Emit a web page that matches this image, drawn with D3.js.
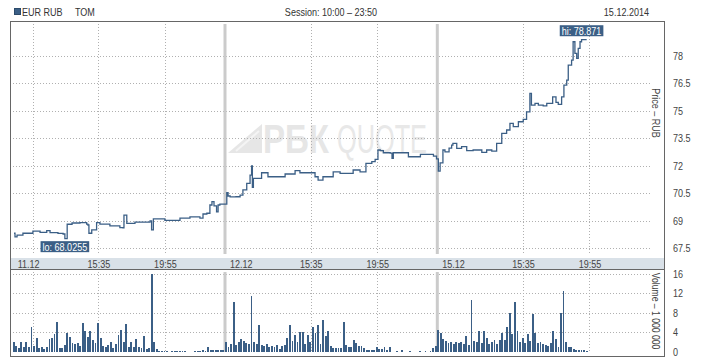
<!DOCTYPE html>
<html><head><meta charset="utf-8">
<script src="https://cdn.jsdelivr.net/npm/d3@7"></script>
<style>
body{margin:0;background:#fff}
svg{display:block}
text{font-family:"Liberation Sans",Arial,sans-serif;}
</style>
</head><body><svg id="c" width="718" height="360"></svg>
<script>
// ---------- data ----------
const days = ["11.12", "12.12", "15.12"];
const timeTickLabels = ["15:35", "19:55"];
const extraGridTimes = ["11.12 11:20"];
const priceTicks = [67.5, 69, 70.5, 72, 73.5, 75, 76.5, 78];
const volumeTicks = [0, 4, 8, 12, 16];

const priceTimes = [
 "11.12 10:05","11.12 10:09","11.12 10:17","11.12 10:40","11.12 11:19","11.12 11:47","11.12 12:13","11.12 12:26",
 "11.12 12:57","11.12 13:17","11.12 13:24","11.12 13:33","11.12 13:52","11.12 14:23","11.12 14:49","11.12 14:54",
 "11.12 14:58","11.12 15:09","11.12 15:28","11.12 15:41","11.12 16:20","11.12 16:59","11.12 17:11","11.12 17:15",
 "11.12 17:26","11.12 17:58","11.12 18:57","11.12 19:03","11.12 19:10","11.12 19:55","11.12 20:27","11.12 20:54",
 "11.12 21:33","11.12 22:12","11.12 22:24","11.12 22:39","11.12 22:51","11.12 22:59","11.12 23:07","11.12 23:17",
 "11.12 23:23","11.12 23:30","11.12 23:46",
 "12.12 10:07","12.12 10:12","12.12 10:20","12.12 10:43","12.12 10:59","12.12 11:10","12.12 11:25","12.12 11:38",
 "12.12 11:44","12.12 11:47","12.12 11:51","12.12 12:17","12.12 12:23","12.12 12:48","12.12 13:35","12.12 13:55",
 "12.12 14:14","12.12 14:34","12.12 14:53","12.12 15:32","12.12 15:52","12.12 16:04","12.12 16:23","12.12 16:43",
 "12.12 17:03","12.12 17:30","12.12 17:58","12.12 18:21","12.12 18:48","12.12 18:56","12.12 19:11","12.12 19:34",
 "12.12 19:47","12.12 19:58","12.12 20:07","12.12 20:19","12.12 20:46","12.12 20:53","12.12 20:58","12.12 21:37",
 "12.12 21:57","12.12 22:44","12.12 23:23","12.12 23:35","12.12 23:47",
 "15.12 10:04","15.12 10:11","15.12 10:22","15.12 10:30","15.12 10:46","15.12 10:56","15.12 11:01","15.12 11:16",
 "15.12 11:35","15.12 11:55","15.12 12:20","15.12 12:39","15.12 12:54","15.12 13:13","15.12 13:33","15.12 13:52",
 "15.12 14:12","15.12 14:31","15.12 14:44","15.12 14:57","15.12 15:17","15.12 15:36","15.12 15:49","15.12 16:02",
 "15.12 16:08","15.12 16:22","15.12 16:35","15.12 16:54","15.12 17:08","15.12 17:27","15.12 17:31","15.12 17:44",
 "15.12 17:53","15.12 18:06","15.12 18:15","15.12 18:26","15.12 18:32","15.12 18:45","15.12 18:51","15.12 18:58",
 "15.12 19:05","15.12 19:11","15.12 19:18","15.12 19:24","15.12 19:44"
];
const priceValues = [
 68.32,68.12,68.22,68.32,68.44,68.37,68.46,68.36,
 68.31,68.28,68.0255,68.81,68.88,68.90,68.82,68.77,
 68.32,68.50,68.90,68.82,68.72,68.63,68.61,69.31,
 68.86,68.93,68.99,68.50,69.10,69.02,69.02,69.15,
 69.21,69.15,69.37,69.41,69.86,70.04,69.81,69.49,
 69.86,69.91,69.91,
 70.53,70.35,70.30,70.31,70.40,70.68,71.04,71.49,
 71.99,70.82,71.31,71.31,71.62,71.40,71.40,71.55,
 71.55,71.73,71.62,71.62,71.40,71.22,71.40,71.40,
 71.67,71.59,71.59,71.77,71.67,71.67,72.13,72.22,
 72.35,72.86,72.82,72.71,72.69,72.40,72.71,72.71,
 72.49,72.62,72.62,72.53,72.37,
 71.71,72.16,72.86,72.76,72.96,73.13,73.22,72.95,
 73.04,72.82,72.86,72.86,72.73,72.86,72.80,73.22,
 73.77,73.95,74.31,74.13,74.40,74.53,74.94,75.95,
 75.31,75.40,75.31,75.27,75.40,75.40,75.76,75.46,
 75.35,75.76,76.40,76.67,77.49,77.76,78.76,78.13,
 77.85,78.40,78.76,78.871,78.871
];

// volume, 10-minute bars from 10:00, millions
const volume1112 = [2.0,1.2,0.8,1.9,0.9,2.1,1.0,5.1,1.2,2.9, 0.8,0.9,0.6,1.0,2.6,2.9,3.7,6.05,0.7,0.8,
 1.4,3.9,3.0,1.7,1.5,1.8,1.2,6.0,4.2,3.1, 4.2,2.5,1.8,6.0,2.8,1.2,1.0,1.3,2.0,0.7,
 1.5,3.5,4.5,2.0,5.7,1.0,2.0,0.9,2.6,1.0, 0.8,3.2,0.6,0.7,16.0,2.1,0.5,0.2,0.2,0.2,
 0.2,0,0.2,0.2,0.2,0.2,0.2,0.2,0,0, 0,0.2,0.2,0.2,0.3,0.2,0.9,0.4,0.4,0.3, 0.4,0.3,0.3];
const volume1212 = [2.0,1.0,1.5,10.2,1.4,2.0,2.6,2.2,1.7,1.5, 11.5,2.0,1.6,5.5,1.4,1.2,1.5,0.9,1.2,0.9,
 1.4,0.6,1.2,1.4,2.8,5.5,2.2,3.5,2.0,4.1, 4.1,1.6,3.5,2.0,5.1,3.9,5.5,1.5,6.5,3.2,
 4.2,1.2,0.7,0.8,0.7,0.8,6.2,1.4,0.9,1.0, 2.4,1.7,1.1,1.1,0.8,0.4,0.4,0.4,0.4,0.9,
 0.5,0.5,0.9,0.3,0.9,0,0,0.2,0,0.4, 0,0,0.1,0,0,0,0.2,0,0.2,0, 0.2,0.7,1.2];
const volume1512 = [4.5,3.9,2.6,2.2,1.7,2.0,1.6,1.9,1.7,2.0, 1.6,3.2,1.4,10.6,2.2,1.9,4.3,1.7,4.3,2.8,
 1.5,2.0,2.4,1.5,2.5,3.9,2.4,5.1,7.9,3.6, 10.2,4.3,1.9,2.9,1.8,3.7,2.2,7.7,3.8,1.7,
 2.0,1.5,1.3,1.2,1.8,4.3,2.6,1.0,7.9,12.4, 2.0,1.0,0.9,0.6,0.4,0.3,0.3,0.3,0.2];
const volumeByDay = [volume1112, volume1212, volume1512];

const loPoint = {time: "11.12 13:24", value: 68.0255, label: "lo: 68.0255"};
const hiPoint = {time: "15.12 19:24", value: 78.871, label: "hi: 78.871"};

// ---------- helpers ----------
const SESSION = 830; // 10:00 - 23:50
function pos(s) {
  const [d, t] = s.split(" ");
  const [h, m] = t.split(":").map(Number);
  return days.indexOf(d) * SESSION + (h * 60 + m - 600);
}
const NARROW = 0.82; // emulate a narrow face from Liberation Sans
function narrow(node) {
  if (node.hasAttribute("textLength")) return;
  const L = node.getComputedTextLength();
  const nl = L * NARROW;
  const anchor = getComputedStyle(node).textAnchor;
  let x0 = +(node.getAttribute("x") || 0);
  if (anchor === "middle") x0 -= nl / 2;
  else if (anchor === "end") x0 -= nl;
  node.setAttribute("x", x0.toFixed(2));
  node.setAttribute("text-anchor", "start");
  node.setAttribute("textLength", nl.toFixed(2));
  node.setAttribute("lengthAdjust", "spacingAndGlyphs");
}

const svg = d3.select("#c");
const BLUE = "#3b5f86";
const x = d3.scaleLinear().domain([0, SESSION * days.length]).range([12.7, 649.6]);
const y = d3.scaleLinear().domain([67.5, 78]).range([248.3, 55.7]);
const yv = d3.scaleLinear().domain([0, 16]).range([351.7, 274]);

// header
svg.append("rect").attr("x", 14.5).attr("y", 8.5).attr("width", 6).attr("height", 6)
  .attr("fill", BLUE).attr("stroke", "#2c4a6a");
svg.append("text").attr("x", 22).attr("y", 15.5).attr("font-size", 11).attr("fill", "#333").text("EUR RUB");
svg.append("text").attr("x", 75).attr("y", 15.5).attr("font-size", 11).attr("fill", "#333").text("TOM");
svg.append("text").attr("x", 331).attr("y", 15.5).attr("font-size", 11).attr("fill", "#333")
  .attr("text-anchor", "middle").text("Session: 10:00 \u2013 23:50");
svg.append("text").attr("x", 649).attr("y", 15.5).attr("font-size", 11).attr("fill", "#333")
  .attr("text-anchor", "end").text("15.12.2014");

// x-axis band
svg.append("rect").attr("x", 11).attr("y", 258).attr("width", 653).attr("height", 11.5).attr("fill", "#d9e1e8");
svg.append("line").attr("x1", 11).attr("x2", 664).attr("y1", 269.5).attr("y2", 269.5).attr("stroke", "#666");

// watermark
const wm = svg.append("g").attr("fill", "#e6e6e6");
wm.append("path").attr("d", "M228,153 L262,153 L262,124 Z");
wm.append("path").attr("d", "M236,151 L259,131").attr("stroke", "#f4f4f4").attr("stroke-width", 2);
wm.append("text").attr("x", 263).attr("y", 152.7).attr("font-size", 40).attr("font-weight", "bold")
  .attr("textLength", 66).attr("lengthAdjust", "spacingAndGlyphs").text("РБК");
wm.append("text").attr("x", 337).attr("y", 152.7).attr("font-size", 40).attr("fill", "#e8e8e8")
  .attr("textLength", 90).attr("lengthAdjust", "spacingAndGlyphs").text("QUOTE");

// grid
const grid = svg.append("g").attr("stroke", "#b0b0b0").attr("stroke-dasharray", "1,2").attr("shape-rendering", "crispEdges");
priceTicks.forEach(t => grid.append("line").attr("x1", 13).attr("x2", 649.6)
  .attr("y1", Math.round(y(t)) + 0.5).attr("y2", Math.round(y(t)) + 0.5));
volumeTicks.filter(t => t > 0).forEach(t => grid.append("line").attr("x1", 13).attr("x2", 649.6)
  .attr("y1", Math.round(yv(t)) + 0.5).attr("y2", Math.round(yv(t)) + 0.5));
const gridTimes = extraGridTimes.concat(days.flatMap(d => timeTickLabels.map(t => d + " " + t)));
gridTimes.forEach(g => {
  const gx = Math.round(x(pos(g))) + 0.5;
  grid.append("line").attr("x1", gx).attr("x2", gx).attr("y1", 24).attr("y2", 254);
  grid.append("line").attr("x1", gx).attr("x2", gx).attr("y1", 272).attr("y2", 352);
});

// day separators
days.slice(1).forEach((d, i) => {
  const sx = x((i + 1) * SESSION);
  svg.append("rect").attr("x", sx - 1.5).attr("y", 24).attr("width", 3).attr("height", 230).attr("fill", "#cbcbcb");
  svg.append("rect").attr("x", sx - 1.5).attr("y", 272).attr("width", 3).attr("height", 80).attr("fill", "#cbcbcb");
});

// volume bars
const bars = volumeByDay.flatMap((arr, d) => arr.map((v, i) => ({p: d * SESSION + i * 10, v})));
const bw = x(10) - x(0);
svg.append("g").attr("fill", BLUE).attr("shape-rendering", "crispEdges")
  .selectAll("rect").data(bars).join("rect")
  .attr("x", b => x(b.p)).attr("width", bw - 0.7)
  .attr("y", b => yv(b.v)).attr("height", b => yv(0) - yv(b.v));

// price line
const pts = priceTimes.map((t, i) => [pos(t), priceValues[i]]);
svg.append("path").datum(pts)
  .attr("fill", "none").attr("stroke", BLUE).attr("stroke-width", 1.3)
  .attr("d", d3.line().x(d => x(d[0])).y(d => y(d[1])).curve(d3.curveStepAfter));

// lo / hi labels
function flag(pt, above) {
  const cx = x(pos(pt.time)), cy = y(pt.value);
  const g = svg.append("g");
  const r = g.append("rect").attr("fill", BLUE);
  const t = g.append("text").attr("font-size", 11).attr("fill", "#fff").attr("x", cx)
    .attr("text-anchor", "middle").text(pt.label);
  narrow(t.node());
  const w = +t.attr("textLength") + 4;
  const top = above ? cy - 3.5 - 11 : cy + 2.5;
  r.attr("x", cx - w / 2).attr("y", top).attr("width", w).attr("height", 11);
  t.attr("y", top + 9.5);
}
flag(loPoint, false);
flag(hiPoint, true);

// frame
svg.append("rect").attr("x", 10.5).attr("y", 21.5).attr("width", 654).attr("height", 335)
  .attr("fill", "none").attr("stroke", "#666");

// axes
const py = svg.append("g").attr("transform", "translate(670,0)")
  .call(d3.axisRight(y).tickValues(priceTicks).tickSize(0).tickPadding(3).tickFormat(d3.format("")));
const vy = svg.append("g").attr("transform", "translate(670,0)")
  .call(d3.axisRight(yv).tickValues(volumeTicks).tickSize(0).tickPadding(3).tickFormat(d3.format("")));
const tickPos = days.flatMap(d => timeTickLabels.map(t => pos(d + " " + t)));
const xa = svg.append("g").attr("transform", "translate(0,258)")
  .call(d3.axisBottom(x).tickValues(tickPos).tickSize(0).tickPadding(2)
    .tickFormat(p => { const m = p % SESSION + 600; return String(Math.floor(m / 60)).padStart(2, "0") + ":" + String(m % 60).padStart(2, "0"); }));
[py, vy, xa].forEach(g => {
  g.select(".domain").remove();
  g.selectAll("text").attr("font-size", 11).attr("fill", "#444")
    .attr("font-family", '"Liberation Sans",Arial,sans-serif');
});
days.forEach((d, i) => {
  svg.append("text").attr("x", x(i * SESSION) + 5).attr("y", 267.5).attr("font-size", 11).attr("fill", "#444").text(d);
});

// rotated axis titles
svg.append("text").attr("transform", "translate(652,113) rotate(90)").attr("text-anchor", "middle")
  .attr("font-size", 11).attr("fill", "#444").text("Price \u2013 RUB");
svg.append("text").attr("transform", "translate(652,311) rotate(90)").attr("text-anchor", "middle")
  .attr("font-size", 10.5).attr("fill", "#444").text("Volume \u2013 1 000 000");

// narrow all remaining texts
svg.selectAll("text").each(function () { narrow(this); });
</script>
</body></html>
